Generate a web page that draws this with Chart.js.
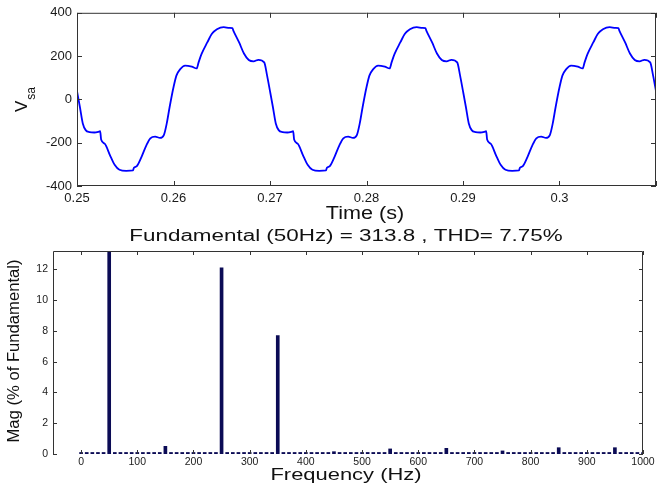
<!DOCTYPE html>
<html>
<head>
<meta charset="utf-8">
<script src="https://cdn.jsdelivr.net/npm/chart.js@4.4.0/dist/chart.umd.min.js"></script>
<style>
  html, body { margin: 0; padding: 0; background: #fff; }
  #wrap { position: relative; width: 669px; height: 486px; overflow: hidden; }
  canvas { position: absolute; left: 0; }
  #vsaChart { top: 0; }
  #fftChart { top: 222px; }
</style>
</head>
<body>
<div id="wrap">
  <canvas id="vsaChart" width="669" height="230"></canvas>
  <canvas id="fftChart" width="669" height="264"></canvas>
</div>
<script>
// Source voltage V_sa (three cycles, 0.25 s .. 0.31 s)
const timeS = [
  0.25, 0.2503, 0.2506, 0.2509, 0.2513, 0.2518, 0.2522, 0.2524, 0.2525, 0.2529, 0.2534, 0.2539,
  0.2544, 0.2551, 0.2558, 0.2559, 0.2562, 0.2567, 0.2572, 0.2576, 0.2581, 0.2586, 0.259, 0.2593,
  0.2596, 0.26, 0.2603, 0.2607, 0.2612, 0.2619, 0.2624, 0.2626, 0.2629, 0.2635, 0.264, 0.2645,
  0.2652, 0.2658, 0.2661, 0.2662, 0.2668, 0.2673, 0.2678, 0.2683, 0.2688, 0.2694, 0.2697,
  0.27, 0.2703, 0.2706, 0.2709, 0.2713, 0.2718, 0.2722, 0.2724, 0.2725, 0.2729, 0.2734, 0.2739,
  0.2744, 0.2751, 0.2758, 0.2759, 0.2762, 0.2767, 0.2772, 0.2776, 0.2781, 0.2786, 0.279, 0.2793,
  0.2796, 0.28, 0.2803, 0.2807, 0.2812, 0.2819, 0.2824, 0.2826, 0.2829, 0.2835, 0.284, 0.2845,
  0.2852, 0.2858, 0.2861, 0.2862, 0.2868, 0.2873, 0.2878, 0.2883, 0.2888, 0.2894, 0.2897,
  0.29, 0.2903, 0.2906, 0.2909, 0.2913, 0.2918, 0.2922, 0.2924, 0.2925, 0.2929, 0.2934, 0.2939,
  0.2944, 0.2951, 0.2958, 0.2959, 0.2962, 0.2967, 0.2972, 0.2976, 0.2981, 0.2986, 0.299, 0.2993,
  0.2996, 0.30, 0.3003, 0.3007, 0.3012, 0.3019, 0.3024, 0.3026, 0.3029, 0.3035, 0.304, 0.3045,
  0.3052, 0.3058, 0.3061, 0.3062, 0.3068, 0.3073, 0.3078, 0.3083, 0.3088, 0.3094, 0.3097,
  0.31
];
const vsa = [
  38, -35, -111, -142, -151, -153, -150, -147, -185, -206, -256, -302,
  -325, -330, -328, -316, -308, -264, -211, -180, -172, -178, -165, -111,
  -35, 56, 110, 140, 156, 151, 143, 171, 209, 263, 304, 324,
  334, 330, 329, 318, 263, 212, 182, 176, 183, 171, 110,
  38, -35, -111, -142, -151, -153, -150, -147, -185, -206, -256, -302,
  -325, -330, -328, -316, -308, -264, -211, -180, -172, -178, -165, -111,
  -35, 56, 110, 140, 156, 151, 143, 171, 209, 263, 304, 324,
  334, 330, 329, 318, 263, 212, 182, 176, 183, 171, 110,
  38, -35, -111, -142, -151, -153, -150, -147, -185, -206, -256, -302,
  -325, -330, -328, -316, -308, -264, -211, -180, -172, -178, -165, -111,
  -35, 56, 110, 140, 156, 151, 143, 171, 209, 263, 304, 324,
  334, 330, 329, 318, 263, 212, 182, 176, 183, 171, 110,
  38
];
const timeTicks = [0.25, 0.26, 0.27, 0.28, 0.29, 0.30, 0.31];
const timeTickLabels = ['0.25', '0.26', '0.27', '0.28', '0.29', '0.3', ''];
const vsaTicks = [-400, -200, 0, 200, 400];

// FFT of V_sa, 10 Hz bins, % of fundamental
const freqHz = [
  0, 10, 20, 30, 40, 50, 60, 70, 80, 90,
  100, 110, 120, 130, 140, 150, 160, 170, 180, 190,
  200, 210, 220, 230, 240, 250, 260, 270, 280, 290,
  300, 310, 320, 330, 340, 350, 360, 370, 380, 390,
  400, 410, 420, 430, 440, 450, 460, 470, 480, 490,
  500, 510, 520, 530, 540, 550, 560, 570, 580, 590,
  600, 610, 620, 630, 640, 650, 660, 670, 680, 690,
  700, 710, 720, 730, 740, 750, 760, 770, 780, 790,
  800, 810, 820, 830, 840, 850, 860, 870, 880, 890,
  900, 910, 920, 930, 940, 950, 960, 970, 980, 990,
  1000
];
const magPct = [
  0.1, 0.1, 0.1, 0.1, 0.1, 100, 0.1, 0.1, 0.1, 0.1,
  0.1, 0.1, 0.1, 0.1, 0.1, 0.5, 0.1, 0.1, 0.1, 0.1,
  0.1, 0.1, 0.1, 0.1, 0.1, 12.1, 0.1, 0.1, 0.1, 0.1,
  0.1, 0.1, 0.1, 0.1, 0.1, 7.7, 0.1, 0.1, 0.1, 0.1,
  0.1, 0.1, 0.1, 0.1, 0.1, 0.15, 0.1, 0.1, 0.1, 0.1,
  0.1, 0.1, 0.1, 0.1, 0.1, 0.33, 0.1, 0.1, 0.1, 0.1,
  0.1, 0.1, 0.1, 0.1, 0.1, 0.37, 0.1, 0.1, 0.1, 0.1,
  0.1, 0.1, 0.1, 0.1, 0.1, 0.2, 0.1, 0.1, 0.1, 0.1,
  0.1, 0.1, 0.1, 0.1, 0.1, 0.41, 0.1, 0.1, 0.1, 0.1,
  0.1, 0.1, 0.1, 0.1, 0.1, 0.41, 0.1, 0.1, 0.1, 0.1,
  0.1
];
const freqTicks = [0, 100, 200, 300, 400, 500, 600, 700, 800, 900, 1000];
const freqTickLabels = ['0', '100', '200', '300', '400', '500', '600', '700', '800', '900', '1000'];
const magTicks = [0, 2, 4, 6, 8, 10, 12];

Chart.defaults.font.family = "'Liberation Sans', Arial, sans-serif";
Chart.defaults.color = '#1a1a1a';

// MATLAB style box with inward ticks on all sides
const matlabAxes = {
    id: 'matlabAxes',
    afterDatasetsDraw(chart, args, opts) {
        const { ctx, chartArea: a } = chart;
        const xs = chart.scales.x, ys = chart.scales.y;
        const L = opts.tickLen;
        const l = a.left + 0.5, r = a.right - 0.5, t = a.top + 0.5, b = a.bottom - 0.5;
        ctx.save();
        ctx.strokeStyle = opts.color;
        ctx.lineWidth = 1;
        ctx.beginPath();
        ctx.moveTo(l, a.bottom);
        ctx.lineTo(l, t);
        ctx.lineTo(r, t);
        ctx.lineTo(r, a.bottom);
        if (opts.bottomLine) {
            ctx.moveTo(a.left, b);
            ctx.lineTo(a.right, b);
        }
        xs.ticks.forEach(tk => {
            const px = Math.round(xs.getPixelForValue(tk.value)) + 0.5;
            ctx.moveTo(px, a.bottom); ctx.lineTo(px, a.bottom - L);
            ctx.moveTo(px, a.top); ctx.lineTo(px, a.top + L);
        });
        ys.ticks.forEach(tk => {
            const py = Math.round(ys.getPixelForValue(tk.value)) + 0.5;
            ctx.moveTo(a.left, py); ctx.lineTo(a.left + L, py);
            ctx.moveTo(a.right, py); ctx.lineTo(a.right - L, py);
        });
        ctx.stroke();
        ctx.restore();
    }
};

// free text (axis titles, plot title), optionally rotated / widened
const textLabels = {
    id: 'textLabels',
    afterDraw(chart, args, opts) {
        const ctx = chart.ctx;
        (opts.items || []).forEach(it => {
            ctx.save();
            ctx.fillStyle = '#111';
            ctx.translate(it.x, it.y);
            if (it.rotate) ctx.rotate(-Math.PI / 2);
            ctx.scale(it.sx || 1, 1);
            ctx.font = it.font;
            if (it.sub) {
                ctx.textAlign = 'left';
                ctx.textBaseline = 'alphabetic';
                const w = ctx.measureText(it.text).width;
                ctx.fillText(it.text, 0, 0);
                ctx.font = it.subFont;
                ctx.fillText(it.sub, w + 1, it.subDy);
            } else {
                ctx.textAlign = 'center';
                ctx.textBaseline = 'middle';
                ctx.fillText(it.text, 0, 0);
            }
            ctx.restore();
        });
    }
};

// Top: V_sa waveform
new Chart(document.getElementById('vsaChart'), {
    type: 'line',
    data: {
        datasets: [{
            data: timeS.map((t, i) => ({ x: t, y: vsa[i] })),
            borderColor: '#0000ff',
            borderWidth: 1.8,
            pointRadius: 0,
            cubicInterpolationMode: 'monotone',
            fill: false
        }]
    },
    options: {
        responsive: false,
        animation: false,
        layout: { padding: { left: 0, right: 13, top: 11, bottom: 0 } },
        plugins: {
            legend: { display: false },
            tooltip: { enabled: false },
            matlabAxes: { color: '#333', tickLen: 5, bottomLine: true },
            textLabels: {
                items: [
                    { text: 'Time (s)', x: 365, y: 214, font: '18px "Liberation Sans"', sx: 1.2 },
                    { text: 'V', sub: 'sa', x: 27, y: 112, rotate: true, subDy: 8,
                      font: '17px "Liberation Sans"', subFont: '12px "Liberation Sans"' }
                ]
            }
        },
        scales: {
            x: {
                type: 'linear',
                min: 0.25,
                max: 0.31,
                afterFit: s => { s.height = 44; },
                afterBuildTicks: s => { s.ticks = timeTicks.map(v => ({ value: v })); },
                ticks: {
                    callback: (v, i) => timeTickLabels[i],
                    padding: 5,
                    maxRotation: 0,
                    autoSkip: false,
                    font: { size: 13 }
                },
                grid: { display: false, drawTicks: false },
                border: { display: false }
            },
            y: {
                min: -400,
                max: 400,
                afterFit: s => { s.width = 77; },
                afterBuildTicks: s => { s.ticks = vsaTicks.map(v => ({ value: v })); },
                ticks: { padding: 5, font: { size: 13 } },
                grid: { display: false, drawTicks: false },
                border: { display: false }
            }
        }
    },
    plugins: [matlabAxes, textLabels]
});

// Bottom: harmonic spectrum
new Chart(document.getElementById('fftChart'), {
    type: 'bar',
    data: {
        datasets: [{
            data: freqHz.map((f, i) => ({ x: f, y: magPct[i] })),
            backgroundColor: '#0b0b55',
            barThickness: 3
        }]
    },
    options: {
        responsive: false,
        animation: false,
        layout: { padding: { left: 0, right: 26, top: 29, bottom: 0 } },
        plugins: {
            legend: { display: false },
            tooltip: { enabled: false },
            matlabAxes: { color: '#333', tickLen: 4, bottomLine: false },
            textLabels: {
                items: [
                    { text: 'Fundamental (50Hz) = 313.8 , THD= 7.75%', x: 346, y: 15, font: '16px "Liberation Sans"', sx: 1.4 },
                    { text: 'Frequency (Hz)', x: 346, y: 254, font: '16px "Liberation Sans"', sx: 1.37 },
                    { text: 'Mag (% of Fundamental)', x: 15, y: 129, rotate: true, font: '16px "Liberation Sans"', sx: 1.04 }
                ]
            }
        },
        scales: {
            x: {
                type: 'linear',
                min: -50,
                max: 1000,
                offset: false,
                afterFit: s => { s.height = 32; },
                afterBuildTicks: s => { s.ticks = freqTicks.map(v => ({ value: v })); },
                ticks: {
                    callback: (v, i) => freqTickLabels[i],
                    padding: 2,
                    maxRotation: 0,
                    autoSkip: false,
                    font: { size: 10.5 }
                },
                grid: { display: false, drawTicks: false, offset: false },
                border: { display: false }
            },
            y: {
                min: 0,
                max: 13.2,
                afterFit: s => { s.width = 53; },
                afterBuildTicks: s => { s.ticks = magTicks.map(v => ({ value: v })); },
                ticks: { padding: 5, font: { size: 10.5 } },
                grid: { display: false, drawTicks: false },
                border: { display: false }
            }
        }
    },
    plugins: [matlabAxes, textLabels]
});
</script>
</body>
</html>
